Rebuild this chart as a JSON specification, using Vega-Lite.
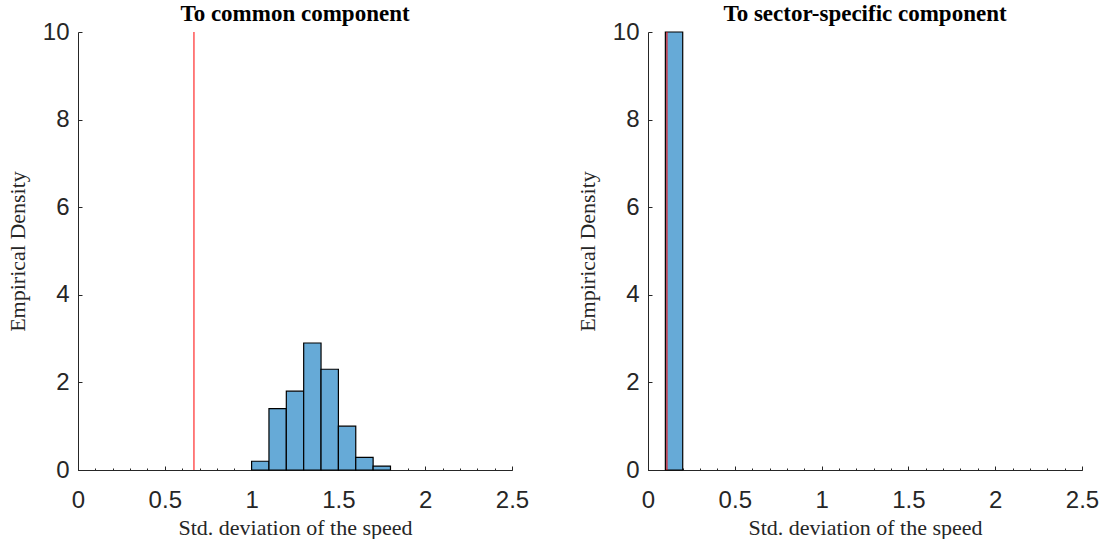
{
  "$schema": "https://vega.github.io/schema/vega-lite/v6.json",
  "padding": {"left": 6, "top": 3, "right": 2, "bottom": 1},
  "background": "white",
  "spacing": 47,
  "datasets": {
    "common": [
      {"bin_start": 1.0, "bin_end": 1.1, "density": 0.2},
      {"bin_start": 1.1, "bin_end": 1.2, "density": 1.4},
      {"bin_start": 1.2, "bin_end": 1.3, "density": 1.8},
      {"bin_start": 1.3, "bin_end": 1.4, "density": 2.9},
      {"bin_start": 1.4, "bin_end": 1.5, "density": 2.3},
      {"bin_start": 1.5, "bin_end": 1.6, "density": 1.0},
      {"bin_start": 1.6, "bin_end": 1.7, "density": 0.29},
      {"bin_start": 1.7, "bin_end": 1.8, "density": 0.09}
    ],
    "sector": [
      {"bin_start": 0.1, "bin_end": 0.2, "density": 10}
    ],
    "common_line": [{"value": 0.668}],
    "sector_line": [{"value": 0.109}]
  },
  "config": {
    "view": {"stroke": null},
    "axis": {
      "grid": false,
      "domainColor": "#262626",
      "domainWidth": 1,
      "tickColor": "#262626",
      "labelColor": "#262626",
      "labelFont": "Liberation Sans",
      "labelFontSize": 24,
      "titleFont": "Liberation Serif",
      "titleFontWeight": "normal",
      "titleFontSize": 22,
      "titleColor": "#262626"
    },
    "title": {"font": "Liberation Serif", "fontWeight": "bold", "fontSize": 23, "color": "#000000", "frame": "group", "anchor": "middle"}
  },
  "hconcat": [
    {
      "width": 434,
      "height": 438,
      "title": {"text": "To common component", "offset": -6},
      "layer": [
        {
          "data": {"name": "common"},
          "mark": {"type": "rect", "fill": "#66AAD7", "stroke": "#000000", "strokeWidth": 1.2},
          "encoding": {
            "x": {"field": "bin_start", "type": "quantitative", "scale": {"domain": [0, 2.5], "nice": false},
                  "axis": {"values": [0, 0.5, 1, 1.5, 2, 2.5], "format": "~g", "tickSize": -4, "labelPadding": 22, "title": "Std. deviation of the speed", "titlePadding": 5, "labelFlush": false}},
            "x2": {"field": "bin_end"},
            "y": {"field": "density", "type": "quantitative", "scale": {"domain": [0, 10], "nice": false},
                  "axis": {"values": [0, 2, 4, 6, 8, 10], "tickSize": -4, "labelPadding": 13, "title": "Empirical Density", "titlePadding": 13, "labelFlush": false}},
            "y2": {"datum": 0}
          }
        },
        {
          "data": {"name": "common_line"},
          "mark": {"type": "rule", "color": "#ff0000", "strokeWidth": 1},
          "encoding": {
            "x": {"field": "value", "type": "quantitative",
                  "axis": {"orient": "bottom", "values": [0,0.1,0.2,0.3,0.4,0.5,0.6,0.7,0.8,0.9,1,1.1,1.2,1.3,1.4,1.5,1.6,1.7,1.8,1.9,2,2.1,2.2,2.3,2.4,2.5], "tickSize": -2, "labels": false, "domain": false, "title": null}}
          }
        }
      ],
      "resolve": {"axis": {"x": "independent"}}
    },
    {
      "width": 434,
      "height": 438,
      "title": {"text": "To sector-specific component", "offset": -6},
      "layer": [
        {
          "data": {"name": "sector"},
          "mark": {"type": "rect", "fill": "#66AAD7", "stroke": "#000000", "strokeWidth": 1.2},
          "encoding": {
            "x": {"field": "bin_start", "type": "quantitative", "scale": {"domain": [0, 2.5], "nice": false},
                  "axis": {"values": [0, 0.5, 1, 1.5, 2, 2.5], "format": "~g", "tickSize": -4, "labelPadding": 22, "title": "Std. deviation of the speed", "titlePadding": 5, "labelFlush": false}},
            "x2": {"field": "bin_end"},
            "y": {"field": "density", "type": "quantitative", "scale": {"domain": [0, 10], "nice": false},
                  "axis": {"values": [0, 2, 4, 6, 8, 10], "tickSize": -4, "labelPadding": 13, "title": "Empirical Density", "titlePadding": 13, "labelFlush": false}},
            "y2": {"datum": 0}
          }
        },
        {
          "data": {"name": "sector_line"},
          "mark": {"type": "rule", "color": "#ff0000", "strokeWidth": 1},
          "encoding": {
            "x": {"field": "value", "type": "quantitative",
                  "axis": {"orient": "bottom", "values": [0,0.1,0.2,0.3,0.4,0.5,0.6,0.7,0.8,0.9,1,1.1,1.2,1.3,1.4,1.5,1.6,1.7,1.8,1.9,2,2.1,2.2,2.3,2.4,2.5], "tickSize": -2, "labels": false, "domain": false, "title": null}}
          }
        }
      ],
      "resolve": {"axis": {"x": "independent"}}
    }
  ]
}
